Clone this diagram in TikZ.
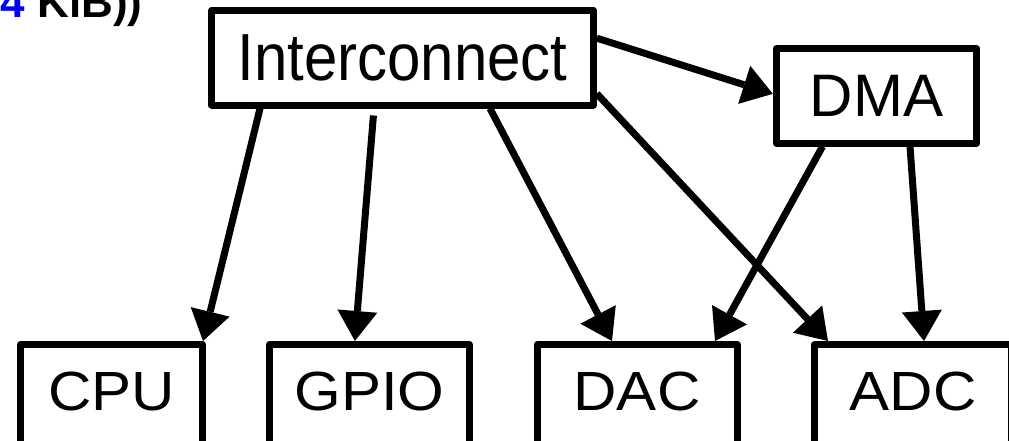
\documentclass[tikz,border=0pt]{standalone}
\usepackage{fontspec}
\setmainfont{Liberation Sans}
\usepackage{graphicx}
\usetikzlibrary{arrows.meta,calc}
\definecolor{kibblue}{RGB}{0,0,255}
\begin{document}
\begin{tikzpicture}[x=1pt,y=-1pt,
  block/.style={draw, line width=7pt, line join=round, inner sep=0pt,
    font=\fontsize{60}{72}\selectfont},
  lowblock/.style={block, text height=65.5pt, text depth=60pt},
  flow/.style={line width=7pt,
    -{Triangle[length=30pt,width=40pt,line width=0pt]}}]
% page frame
\fill[white] (0,0) rectangle (1009,440);
\useasboundingbox (0,0) rectangle (1009,440);
\clip (0,0) rectangle (1009,440);

% caption tail at the top left
\node[anchor=base west, inner sep=0pt, font=\bfseries\fontsize{44}{52}\selectfont]
  (size) at (0.5,17) {\textcolor{kibblue}{4} KiB))};

% blocks
\node[block, minimum width=381.6pt, text height=69.7pt, text depth=25pt]
  (ic) at (402.5,57.65) {\scalebox{1}[1.11]{Interconnect}};
\node[block, minimum width=200.4pt, text height=68pt, text depth=26.3pt]
  (dma) at (876.5,95.85) {DMA};
\node[lowblock, minimum width=182pt]   (cpu)  at (111.5,407.25) {\scalebox{1}[0.92]{CPU}};
\node[lowblock, minimum width=199.8pt] (gpio) at (369.4,407.25) {\scalebox{1}[0.92]{GPIO}};
\node[lowblock, minimum width=200pt]   (dac)  at (637,407.25)   {\scalebox{1}[0.92]{DAC}};
\node[lowblock, minimum width=197pt]   (adc)  at (913,407.25)   {\scalebox{1}[0.92]{ADC}};

% connections
\draw[flow] ([yshift=19.5pt]ic.east) -- ([yshift=2pt]dma.west);
\draw[flow] ([xshift=-142.5pt]ic.south) -- ([xshift=-3pt]cpu.north east);
\draw[flow, shorten <=7pt] ([xshift=-28.5pt]ic.south) -- ([xshift=-14.5pt]gpio.north);
\draw[flow] ([xshift=87.5pt]ic.south) -- ([xshift=-25pt]dac.north);
\draw[flow] ([yshift=-36pt]ic.east) -- ([xshift=17pt]adc.north west);
\draw[flow] ([xshift=-54pt]dma.south) -- ([xshift=-25.5pt]dac.north east);
\draw[flow] ([xshift=33.5pt]dma.south) -- ([xshift=113pt]adc.north west);
\end{tikzpicture}
\end{document}
